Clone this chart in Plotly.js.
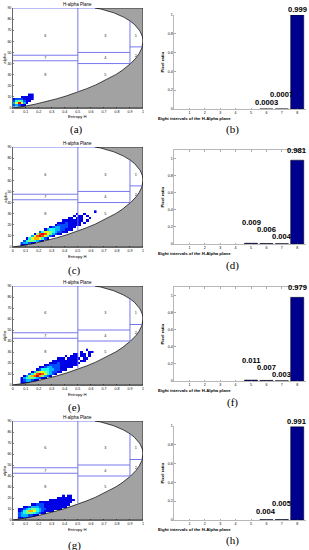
<!DOCTYPE html>
<html>
<head>
<meta charset="utf-8">
<script src="https://cdn.plot.ly/plotly-3.0.1.min.js"></script>
<style>
html,body{margin:0;padding:0;background:#fff;}
#chart{width:309px;height:550px;}
</style>
</head>
<body>
<div id="chart"></div>
<script>
// ================= DATA =================
const ENTROPY_RANGE = [0, 1];
const ALPHA_RANGE = [0, 90];

// Feasible-region boundary of the H-alpha plane
const lowerCurveH     = [0, 0.057, 0.100, 0.173, 0.234, 0.335, 0.417, 0.515, 0.569, 0.637, 0.725, 0.790, 0.839, 0.905, 0.946, 0.971, 0.991, 0.999, 1];
const lowerCurveAlpha = [0, 0.89, 1.76, 3.46, 5.09, 8.18, 11.05, 15.0, 17.42, 20.77, 25.7, 30, 33.75, 40, 45, 49.1, 54, 57.86, 60];
const upperCurveH     = [0.631, 0.675, 0.707, 0.775, 0.851, 0.901, 0.936, 0.977, 0.995, 0.999, 1];
const upperCurveAlpha = [90, 89.1, 88.24, 85.7, 81.8, 78.3, 75, 69.2, 64.3, 62.07, 60];

// Zone boundaries (blue lines)
const zoneLineH     = [[0,0.5],[0,0.5],[0.5,0.9],[0.5,0.9],[0.9,0.993],[0.5,0.5],[0.9,0.9],[0,0.631]];
const zoneLineAlpha = [[47.5,47.5],[42.5,42.5],[50,50],[40,40],[55,55],[15,90],[40,78.3],[90,90]];

// Zone numbers
const zoneNames     = ['6','3','1','7','4','2','8','5'];
const zoneNameH     = [0.25, 0.71, 0.945, 0.25, 0.71, 0.945, 0.25, 0.71];
const zoneNameAlpha = [65, 65, 65, 44.5, 44.5, 47, 30, 30];

// Point density in the H-alpha plane: [alpha row, H where the run starts, densities 0-9 per 0.02 of H]
const densityRowsA = [
  [2, 0.01, '23211'],
  [4, 0.01, '369631'],
  [6, 0.01, '2454211'],
  [8, 0.01, '12221111'],
  [10, 0.07, '11111'],
  [12, 0.13, '11']
];
const densityRowsC = [
  [2, 0.07, '111'],
  [4, 0.07, '233211'],
  [6, 0.09, '24554321'],
  [8, 0.11, '146776421'],
  [10, 0.15, '368986421'],
  [12, 0.17, '15898653211'],
  [14, 0.21, '24665432211'],
  [16, 0.25, '13443322111'],
  [18, 0.29, '1233222111'],
  [20, 0.33, '1222211111'],
  [22, 0.35, '11121111101'],
  [24, 0.39, '1111111101'],
  [26, 0.43, '110111001'],
  [28, 0.47, '101101'],
  [30, 0.49, '1001'],
  [32, 0.63, '1']
];
const densityRowsE = [
  [2, 0.07, '1111'],
  [4, 0.07, '1233211'],
  [6, 0.07, '1345543211'],
  [8, 0.09, '13578975321'],
  [10, 0.13, '24689864321'],
  [12, 0.15, '135665432211'],
  [14, 0.19, '124443322111'],
  [16, 0.21, '1123322211111'],
  [18, 0.25, '1122221111111'],
  [20, 0.29, '111211111111'],
  [22, 0.31, '1111111111011'],
  [24, 0.35, '111011111011'],
  [26, 0.41, '1011101101'],
  [28, 0.47, '1101101'],
  [30, 0.53, '10011'],
  [32, 0.57, '1']
];
const densityRowsG = [
  [2, 0.05, '11211'],
  [4, 0.05, '23332211'],
  [6, 0.05, '23455543211'],
  [8, 0.05, '12457764321111'],
  [10, 0.05, '11234554322111111'],
  [12, 0.09, '11233322111111111'],
  [14, 0.15, '112221111111111'],
  [16, 0.21, '1111111111111'],
  [18, 0.29, '1111111111'],
  [20, 0.35, '111111'],
  [22, 0.39, '1011']
];
const DENSITY_STEP_H = 0.02;
const DENSITY_STEP_ALPHA = 2;

// Pixel ratio in the eight intervals
const intervals = [1, 2, 3, 4, 5, 6, 7, 8];
const ratioB = [0, 0, 0, 0, 0, 0.0003, 0.0007, 0.999];
const ratioD = [0, 0, 0, 0, 0.009, 0.006, 0.004, 0.981];
const ratioF = [0, 0, 0, 0, 0.011, 0.007, 0.003, 0.979];
const ratioH = [0, 0, 0, 0, 0, 0.004, 0.005, 0.991];

const panelLetters = ['(a)','(b)','(c)','(d)','(e)','(f)','(g)','(h)'];

// ================= LAYOUT / STYLE =================
const W = 309, H = 550;
const FONT = 'Liberation Sans, Arial, sans-serif';
const JET = [[0,'#000080'],[0.125,'#0000ff'],[0.375,'#00ffff'],[0.625,'#ffff00'],[0.875,'#ff0000'],[1,'#800000']];
const GRAY = '#a2a2a2';
const ZONE_BLUE = 'rgb(105,105,235)';
const BAR_BLUE = 'rgb(0,0,143)';

const leftX = [12.7/W, 143/W];
const rightX = [174/W, 306/W];
const leftRowsPx = [[8,108],[147,247],[286,385],[421,520]];
const rightRowsPx = [[15,109],[150,244],[287,381],[426,520]];
const rightYMax = [1, 1.1, 1.1, 1];
const rightXRange = [0, 8.57];
// bottom of each value label, in data units of the bar panel
const barLabelY = [
  [0.01, 0.10, 1.0],
  [0.19, 0.105, 0.022, 1.03],
  [0.18, 0.097, 0.016, 1.03],
  [0.035, 0.115, 0.99]
];
const letterPx = [[76,129],[232,129],[74,270],[232,265],[74,407],[232,402],[74,545],[232,540]];

const pxDomain = (r) => [1 - r[1]/H, 1 - r[0]/H];

function densityGrid(rows) {
  const h0 = Math.min(...rows.map(r => r[1]));
  const a0 = Math.min(...rows.map(r => r[0]));
  let ncol = 0;
  rows.forEach(r => { ncol = Math.max(ncol, Math.round((r[1]-h0)/DENSITY_STEP_H) + r[2].length); });
  const nrow = Math.round((Math.max(...rows.map(r => r[0])) - a0)/DENSITY_STEP_ALPHA) + 1;
  const z = Array.from({length: nrow}, () => Array(ncol).fill(null));
  rows.forEach(r => {
    const ri = Math.round((r[0]-a0)/DENSITY_STEP_ALPHA);
    const ci = Math.round((r[1]-h0)/DENSITY_STEP_H);
    r[2].split('').forEach((ch, j) => { const v = +ch; if (v > 0) z[ri][ci+j] = v; });
  });
  return {z, x0: h0, dx: DENSITY_STEP_H, y0: a0, dy: DENSITY_STEP_ALPHA};
}

const polyH = [...lowerCurveH, ...upperCurveH.slice(0, -1).reverse(), ENTROPY_RANGE[1], ENTROPY_RANGE[1], lowerCurveH[0]];
const polyA = [...lowerCurveAlpha, ...upperCurveAlpha.slice(0, -1).reverse(), ALPHA_RANGE[1], ALPHA_RANGE[0], lowerCurveAlpha[0]];
const zoneX = [], zoneY = [];
zoneLineH.forEach((seg, i) => { zoneX.push(seg[0], seg[1], null); zoneY.push(zoneLineAlpha[i][0], zoneLineAlpha[i][1], null); });

const densities = [densityRowsA, densityRowsC, densityRowsE, densityRowsG];
const ratios = [ratioB, ratioD, ratioF, ratioH];

const traces = [];
const layout = {
  width: W, height: H,
  margin: {l:0, r:0, t:0, b:0},
  paper_bgcolor: '#fff', plot_bgcolor: '#fff',
  showlegend: false,
  font: {family: FONT, color: '#000'},
  annotations: []
};

for (let i = 0; i < 4; i++) {
  // ---------- left: H-alpha plane ----------
  const n = 2*i + 1;
  const xa = 'x' + n, ya = 'y' + n;
  const g = densityGrid(densities[i]);
  traces.push({type:'heatmap', z:g.z, x0:g.x0, dx:g.dx, y0:g.y0, dy:g.dy,
    colorscale: JET, zmin:0, zmax:10, showscale:false, hoverinfo:'skip', xaxis:xa, yaxis:ya});
  traces.push({type:'scatter', mode:'lines', x:polyH, y:polyA, fill:'toself', fillcolor:GRAY,
    line:{color:'#000', width:0.7}, hoverinfo:'skip', xaxis:xa, yaxis:ya});
  traces.push({type:'scatter', mode:'lines', x:zoneX, y:zoneY, line:{color:ZONE_BLUE, width:0.9},
    hoverinfo:'skip', xaxis:xa, yaxis:ya});
  traces.push({type:'scatter', mode:'text', x:zoneNameH, y:zoneNameAlpha, text:zoneNames,
    textfont:{size:3.8, color:'#222', family:FONT}, hoverinfo:'skip', xaxis:xa, yaxis:ya});

  const axBase = {showgrid:false, zeroline:false, ticks:'inside', ticklen:1.5, tickwidth:0.5, tickcolor:'#000',
    showline:true, linecolor:'#000', linewidth:0.6, mirror:false, tickfont:{size:3.6, family:FONT}, fixedrange:true};
  layout['xaxis' + n] = Object.assign({}, axBase, {domain:leftX, anchor:ya, range:ENTROPY_RANGE, tick0:0, dtick:0.1});
  layout['yaxis' + n] = Object.assign({}, axBase, {domain:pxDomain(leftRowsPx[i]), anchor:xa, range:ALPHA_RANGE, tick0:0, dtick:10});

  layout.annotations.push(
    {xref:xa+' domain', yref:ya+' domain', x:0.5, y:1, yanchor:'bottom', yshift:-1, showarrow:false,
     text:'H-alpha Plane', font:{size:4.5, family:FONT}},
    {xref:xa+' domain', yref:ya+' domain', x:0.5, y:0, yanchor:'middle', yshift:-9, showarrow:false,
     text:'Entropy H', font:{size:4.2, family:FONT}},
    {xref:xa+' domain', yref:ya+' domain', x:0, y:0.5, xanchor:'center', xshift:-8, textangle:-90, showarrow:false,
     text:'alpha', font:{size:4.2, family:FONT}}
  );

  // ---------- right: pixel ratio bars ----------
  const m = 2*i + 2;
  const xb = 'x' + m, yb = 'y' + m;
  const vals = ratios[i];
  traces.push({type:'bar', x:intervals, y:vals, width:0.85,
    marker:{color:BAR_BLUE, line:{color:'#000', width:vals.map(v => v > 0 ? 0.5 : 0)}},
    hoverinfo:'skip', xaxis:xb, yaxis:yb});
  const rAx = {showgrid:false, zeroline:false, ticks:'inside', ticklen:1.5, tickwidth:0.5, tickcolor:'#555',
    showline:true, linecolor:'#888', linewidth:0.6, tickfont:{size:3.6, family:FONT}, fixedrange:true};
  layout['xaxis' + m] = Object.assign({}, rAx, {domain:rightX, anchor:yb, range:rightXRange, tickvals:intervals,
    mirror: rightYMax[i] > 1 ? 'ticks' : false});
  layout['yaxis' + m] = Object.assign({}, rAx, {domain:pxDomain(rightRowsPx[i]), anchor:xb, range:[0, rightYMax[i]], tick0:0, dtick:0.2});

  let k = 0;
  intervals.forEach((c, j) => {
    if (vals[j] > 0) {
      layout.annotations.push({xref:xb, yref:yb, x:c, y:barLabelY[i][k], yanchor:'bottom', xanchor:'center',
        showarrow:false, text:String(vals[j]), font:{size:7.6, family:FONT, weight:'bold'}, borderpad:0});
      k++;
    }
  });
  layout.annotations.push(
    {xref:xb+' domain', yref:yb+' domain', x:0, y:0.5, xanchor:'center', xshift:-12.5, textangle:-90, showarrow:false,
     text:'<b>Pixel ratio</b>', font:{size:4.3, family:FONT}},
    {xref:'paper', yref:yb+' domain', x:233/W, y:0, yanchor:'middle', yshift:-9.5, showarrow:false,
     text:'<b>Eight intervals of the H-Alpha plane</b>', font:{size:4.3, family:FONT}}
  );
}

panelLetters.forEach((t, i) => {
  layout.annotations.push({xref:'paper', yref:'paper', x:letterPx[i][0]/W, y:1 - letterPx[i][1]/H,
    xanchor:'center', yanchor:'middle', showarrow:false, text:t,
    font:{size:11, family:'Liberation Serif, Times New Roman, serif'}});
});

Plotly.newPlot('chart', traces, layout, {staticPlot:true, displayModeBar:false});
</script>
</body>
</html>
